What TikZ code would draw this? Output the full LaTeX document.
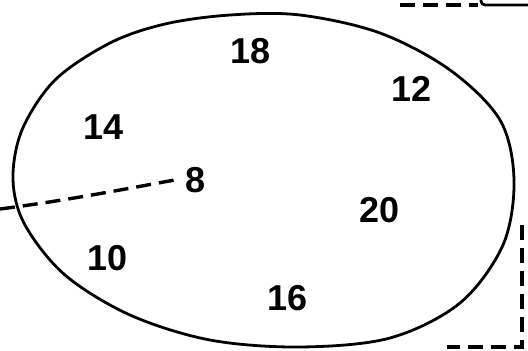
\documentclass[tikz,border=0pt]{standalone}
\usepackage{fontspec}
\setmainfont{Liberation Sans}
\usepackage{tikz}

\begin{document}
\begin{tikzpicture}[x=1pt,y=-1pt,
  num/.style={inner sep=0pt,font=\fontsize{36}{36}\selectfont\bfseries},
  rim/.style={line width=2.8pt},
  dsh/.style={line width=3.4pt,dash pattern=on 15pt off 8pt}]
\useasboundingbox (0,0) rectangle (528,351);
% the oval
\draw[rim] plot[smooth cycle,tension=0.55] coordinates {
  (230,15) (300,15) (380,33) (450,70) (500,120) (514,180) (503,245)
  (460,303) (390,338) (300,347) (210,340) (130,315) (65,275) (25,225)
  (13,180) (22,130) (55,80) (110,43) (165,24)};
% numbers
\node[num] (n18) at (251,51) {18};
\node[num] (n12) at (412,89) {12};
\node[num] (n14) at (104,127) {14};
\node[num] (n8) at (196,180) {8};
\node[num] (n20) at (380,210) {20};
\node[num] (n10) at (108,258) {10};
\node[num] (n16) at (288,298) {16};
% dashed lead into 8
\coordinate (lin) at (0,209);
\draw[dsh] (lin) .. controls (70,200) and (130,188) .. ([xshift=-11pt]n8.west);
% top right corner
\coordinate (tl) at (400,5);
\coordinate (tb) at (478,5);
\draw[dsh] (tl) -- (tb);
\draw[rim] (481,-2) -- (481,1) to[out=-90,in=180] (485,5) -- (528,5);
% bottom right corner
\coordinate (bv) at (522,225);
\coordinate (bc) at (522,347);
\coordinate (bh) at (447,347);
\draw[dsh] (bv) -- (bc) -- (bh);
\end{tikzpicture}
\end{document}
